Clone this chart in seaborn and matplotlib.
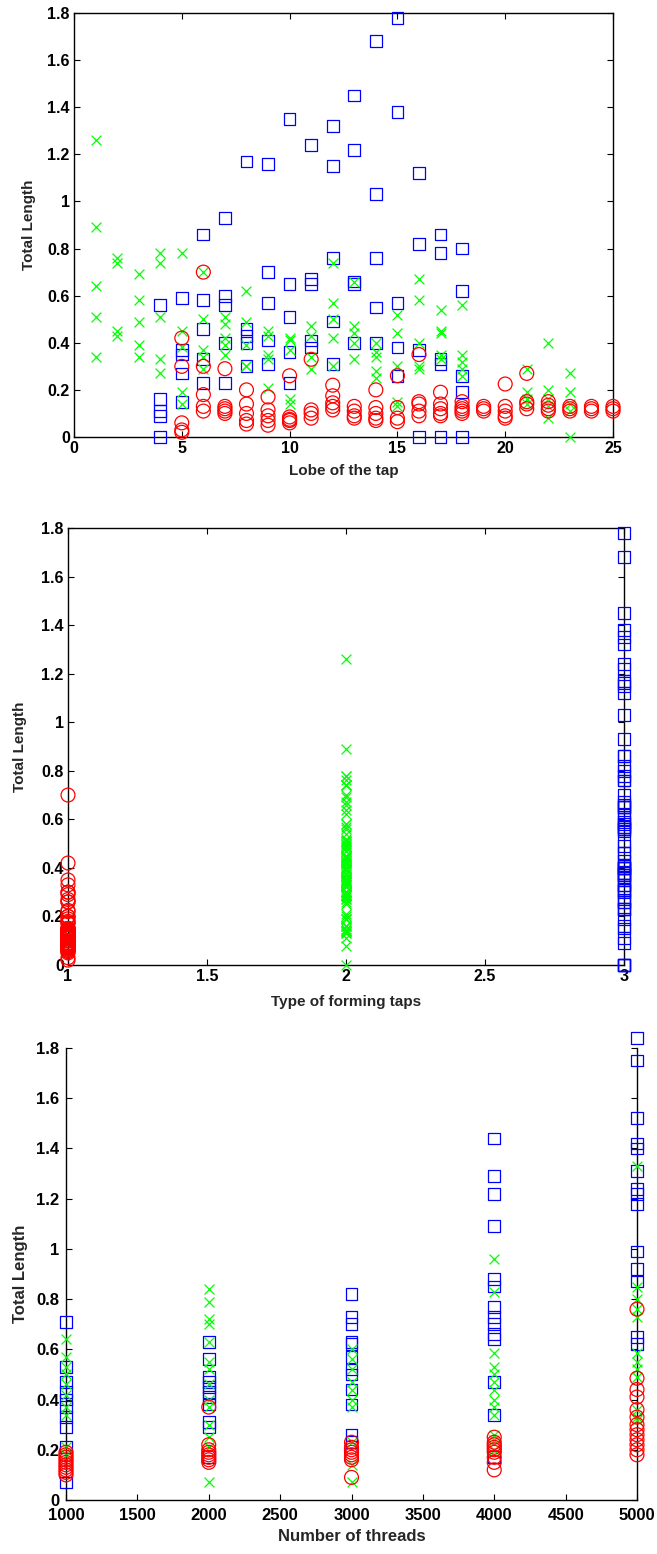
import matplotlib
matplotlib.use("Agg")
import matplotlib.pyplot as plt
import seaborn as sns
import numpy as np

# ---------------- data ----------------
# Panel 1: total length per lobe, by tap type
red_lobes = [5, 6, 7, 8, 9, 10, 11, 12, 13, 14, 15, 16, 17, 18, 19, 20, 21, 22, 23, 24, 25]
red_len = [
    [0.42, 0.30, 0.06, 0.03, 0.02],
    [0.70, 0.30, 0.18, 0.13, 0.11],
    [0.29, 0.13, 0.12, 0.11, 0.10],
    [0.20, 0.14, 0.10, 0.07, 0.055],
    [0.17, 0.115, 0.09, 0.07, 0.05],
    [0.26, 0.085, 0.075, 0.07, 0.06],
    [0.33, 0.115, 0.10, 0.08],
    [0.22, 0.175, 0.145, 0.13, 0.115],
    [0.13, 0.11, 0.09, 0.08],
    [0.20, 0.125, 0.10, 0.08, 0.07],
    [0.26, 0.125, 0.08, 0.065],
    [0.35, 0.15, 0.14, 0.11, 0.09],
    [0.19, 0.14, 0.12, 0.10, 0.09],
    [0.15, 0.13, 0.12, 0.11, 0.10],
    [0.13, 0.12, 0.11],
    [0.225, 0.13, 0.11, 0.09, 0.08],
    [0.27, 0.15, 0.14, 0.12],
    [0.15, 0.135, 0.12, 0.11],
    [0.13, 0.12, 0.11],
    [0.13, 0.12, 0.11],
    [0.13, 0.12, 0.11],
]
green_lobes = [1, 2, 3, 4, 5, 6, 7, 8, 9, 10, 11, 12, 13, 14, 15, 16, 17, 18, 21, 22, 23]
green_len = [
    [1.26, 0.89, 0.64, 0.51, 0.34],
    [0.76, 0.74, 0.45, 0.43],
    [0.69, 0.58, 0.49, 0.39, 0.34],
    [0.78, 0.74, 0.51, 0.33, 0.27],
    [0.78, 0.45, 0.38, 0.19, 0.14],
    [0.70, 0.50, 0.37, 0.34, 0.29],
    [0.51, 0.48, 0.42, 0.39, 0.35],
    [0.62, 0.49, 0.39, 0.30, 0.30],
    [0.45, 0.43, 0.35, 0.33, 0.21],
    [0.42, 0.41, 0.37, 0.16, 0.14],
    [0.47, 0.43, 0.34, 0.29],
    [0.74, 0.57, 0.50, 0.42, 0.30],
    [0.66, 0.47, 0.44, 0.40, 0.33],
    [0.40, 0.36, 0.34, 0.28, 0.25],
    [0.52, 0.44, 0.30, 0.15, 0.13],
    [0.67, 0.58, 0.40, 0.30, 0.29],
    [0.54, 0.45, 0.44, 0.35, 0.33],
    [0.56, 0.35, 0.32, 0.29, 0.26],
    [0.29, 0.19, 0.16, 0.14],
    [0.40, 0.20, 0.16, 0.13, 0.08],
    [0.27, 0.19, 0.14, 0.11, 0.0],
]
blue_lobes = [4, 5, 6, 7, 8, 9, 10, 11, 12, 13, 14, 15, 16, 17, 18]
blue_len = [
    [0.56, 0.16, 0.11, 0.09, 0.0],
    [0.59, 0.37, 0.35, 0.27, 0.15],
    [0.86, 0.58, 0.46, 0.33, 0.23],
    [0.93, 0.60, 0.56, 0.40, 0.23],
    [1.17, 0.46, 0.43, 0.40, 0.30],
    [1.16, 0.70, 0.57, 0.41, 0.31],
    [1.35, 0.65, 0.51, 0.36, 0.23],
    [1.24, 0.67, 0.65, 0.41, 0.38],
    [1.32, 1.15, 0.76, 0.49, 0.31],
    [1.45, 1.22, 0.66, 0.65, 0.40],
    [1.68, 1.03, 0.76, 0.55, 0.40],
    [1.78, 1.38, 0.57, 0.38, 0.26],
    [1.12, 0.82, 0.37, 0.0],
    [0.86, 0.78, 0.33, 0.31, 0.0],
    [0.80, 0.62, 0.26, 0.19, 0.0],
]

# Panel 3: total length per number of threads, by tap type
thread_levels = [1000, 2000, 3000, 4000, 5000]
red_thr_len = [
    [0.19, 0.18, 0.17, 0.16, 0.15, 0.14, 0.13, 0.12, 0.11, 0.10],
    [0.37, 0.22, 0.20, 0.19, 0.18, 0.17, 0.16, 0.15],
    [0.23, 0.21, 0.20, 0.19, 0.18, 0.17, 0.16, 0.09],
    [0.25, 0.23, 0.22, 0.21, 0.20, 0.19, 0.17, 0.15, 0.12],
    [0.76, 0.485, 0.44, 0.41, 0.36, 0.33, 0.30, 0.28, 0.26, 0.24, 0.22, 0.20, 0.18],
]
green_thr_len = [
    [0.64, 0.57, 0.53, 0.50, 0.46, 0.42, 0.37, 0.34, 0.21, 0.18],
    [0.84, 0.79, 0.72, 0.70, 0.63, 0.55, 0.52, 0.46, 0.40, 0.37, 0.30, 0.25, 0.21, 0.07],
    [0.60, 0.56, 0.52, 0.47, 0.44, 0.40, 0.37, 0.23, 0.14, 0.07],
    [0.96, 0.83, 0.585, 0.53, 0.50, 0.47, 0.44, 0.40, 0.37, 0.34, 0.26, 0.24, 0.20],
    [1.33, 0.85, 0.80, 0.76, 0.73, 0.585, 0.55, 0.52, 0.49, 0.36, 0.33, 0.32],
]
blue_thr_len = [
    [0.71, 0.53, 0.47, 0.43, 0.40, 0.37, 0.33, 0.29, 0.21, 0.07],
    [0.63, 0.56, 0.49, 0.47, 0.45, 0.43, 0.41, 0.38, 0.31, 0.29, 0.17],
    [0.82, 0.73, 0.70, 0.63, 0.62, 0.57, 0.52, 0.50, 0.44, 0.38, 0.26, 0.23],
    [1.44, 1.29, 1.22, 1.09, 0.88, 0.85, 0.77, 0.73, 0.70, 0.66, 0.64, 0.47, 0.34, 0.17],
    [1.84, 1.75, 1.52, 1.42, 1.40, 1.31, 1.24, 1.22, 1.18, 0.99, 0.92, 0.87, 0.65, 0.62],
]

type_values = [1, 2, 3]

# ---------------- style ----------------
sns.set_theme(style="white")
plt.rcParams["font.family"] = ["Liberation Sans", "DejaVu Sans"]
plt.rcParams["font.weight"] = "bold"
plt.rcParams["axes.labelweight"] = "bold"

RED, GREEN, BLUE = "#ff0000", "#00ff00", "#0000ff"
S_SQ, S_O, S_X = 72, 100, 50
LW = 0.9


def flatten(xs, groups):
    xx, yy = [], []
    for x, g in zip(xs, groups):
        for v in g:
            xx.append(x)
            yy.append(v)
    return np.array(xx, dtype=float), np.array(yy, dtype=float)


def draw_groups(ax, bx, by, gx, gy, rx, ry, clip=True):
    sns.scatterplot(x=bx, y=by, ax=ax, marker="s", s=S_SQ, facecolors="none",
                    edgecolor=BLUE, linewidth=LW, legend=False, clip_on=clip, zorder=3)
    sns.scatterplot(x=gx, y=gy, ax=ax, marker="x", s=S_X, color=GREEN,
                    linewidth=LW, legend=False, clip_on=clip, zorder=4)
    sns.scatterplot(x=rx, y=ry, ax=ax, marker="o", s=S_O, facecolors="none",
                    edgecolor=RED, linewidth=LW, legend=False, clip_on=clip, zorder=5)


def fmt(v):
    return "%g" % v


def style_axes(ax, xticks, yticks, fs, top=True, xpad=3, ypad=3):
    ax.set_xticks(xticks)
    ax.set_yticks(yticks)
    ax.set_xticklabels([fmt(t) for t in xticks], fontsize=fs, fontweight="bold")
    ax.set_yticklabels([fmt(t) for t in yticks], fontsize=fs, fontweight="bold")
    ax.tick_params(direction="in", length=4, width=0.8, top=top, right=True,
                   bottom=True, left=True, colors="black")
    ax.tick_params(axis="x", pad=xpad)
    ax.tick_params(axis="y", pad=ypad)
    for side, sp in ax.spines.items():
        sp.set_color("black")
        sp.set_linewidth(1.0)
    if not top:
        ax.spines["top"].set_visible(False)
    ax.grid(False)


W, H = 657, 1554
fig = plt.figure(figsize=(W / 100, H / 100), dpi=100)


def add_axes(l, r, t, b):
    return fig.add_axes([l / W, 1 - b / H, (r - l) / W, (b - t) / H])


yt = [0, 0.2, 0.4, 0.6, 0.8, 1.0, 1.2, 1.4, 1.6, 1.8]

# Panel 1
ax1 = add_axes(74, 613, 13, 437)
bx, by = flatten(blue_lobes, blue_len)
gx, gy = flatten(green_lobes, green_len)
rx, ry = flatten(red_lobes, red_len)
draw_groups(ax1, bx, by, gx, gy, rx, ry, clip=False)
ax1.set_xlim(0, 25)
ax1.set_ylim(0, 1.8)
style_axes(ax1, [0, 5, 10, 15, 20, 25], yt, 11.5)
ax1.set_xlabel("Lobe of the tap", fontsize=11, fontweight="bold", labelpad=6)
ax1.set_ylabel("Total Length", fontsize=11, fontweight="bold", labelpad=8)

# Panel 2: same data grouped by type
ax2 = add_axes(68, 624, 528, 965)
b2x = np.full(len(by), type_values[2], dtype=float)
g2x = np.full(len(gy), type_values[1], dtype=float)
r2x = np.full(len(ry), type_values[0], dtype=float)
draw_groups(ax2, b2x, by, g2x, gy, r2x, ry, clip=False)
ax2.set_xlim(1, 3)
ax2.set_ylim(0, 1.8)
style_axes(ax2, [1, 1.5, 2, 2.5, 3], yt, 11.5)
ax2.set_xlabel("Type of forming taps", fontsize=11, fontweight="bold", labelpad=8)
ax2.set_ylabel("Total Length", fontsize=11, fontweight="bold", labelpad=10)

# Panel 3
ax3 = add_axes(66, 637, 1048, 1500)
b3x, b3y = flatten(thread_levels, blue_thr_len)
g3x, g3y = flatten(thread_levels, green_thr_len)
r3x, r3y = flatten(thread_levels, red_thr_len)
draw_groups(ax3, b3x, b3y, g3x, g3y, r3x, r3y, clip=False)
ax3.set_xlim(1000, 5000)
ax3.set_ylim(0, 1.8)
style_axes(ax3, list(range(1000, 5001, 500)), yt, 12, top=False, xpad=6, ypad=5)
ax3.set_xlabel("Number of threads", fontsize=12, fontweight="bold", labelpad=4)
ax3.set_ylabel("Total Length", fontsize=12, fontweight="bold", labelpad=6)

fig.savefig("out.png", dpi=100)
